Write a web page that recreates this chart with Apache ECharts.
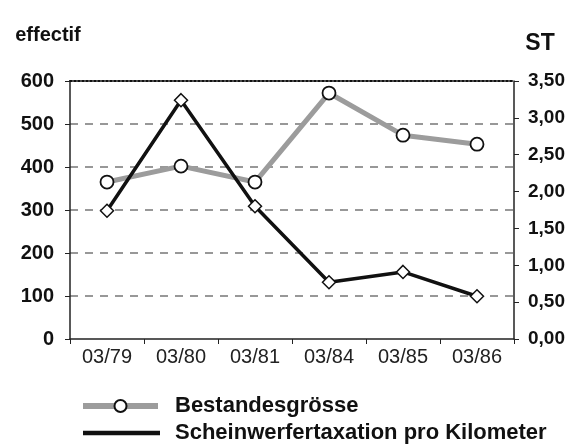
<!DOCTYPE html>
<html>
<head>
<meta charset="utf-8">
<script src="https://cdn.jsdelivr.net/npm/echarts@6/dist/echarts.min.js"></script>
<style>
  html, body { margin: 0; padding: 0; background: #fff; }
  #chart { width: 575px; height: 444px; }
</style>
</head>
<body>
<div id="chart"></div>
<script>
// categories and values
const categories = ['03/79', '03/80', '03/81', '03/84', '03/85', '03/86'];
const bestand = [365, 402, 365, 572, 474, 453];       // effectif, left axis
const taxation = [1.74, 3.24, 1.80, 0.77, 0.91, 0.58]; // ST, right axis
const leftTicks = { min: 0, max: 600, interval: 100 };
const rightTicks = { min: 0, max: 3.5, interval: 0.5 };

const font = 'Liberation Sans, Arial, sans-serif';
const myChart = echarts.init(document.getElementById('chart'));

const legendText = { fontFamily: font, fontWeight: 'bold', fontSize: 22, color: '#111' };

const option = {
  backgroundColor: '#fff',
  animation: false,
  grid: { left: 70, right: 61, top: 81, bottom: 105 },
  legend: [
    {
      data: ['Bestandesgrösse'],
      left: 75, top: 390,
      itemWidth: 75, itemHeight: 15,
      lineStyle: { color: '#9c9c9c', width: 6 },
      textStyle: Object.assign({}, legendText, { padding: [0, 0, 0, 12] })
    },
    {
      data: [{ name: 'Scheinwerfertaxation pro Kilometer', icon: 'rect' }],
      left: 78, top: 417,
      itemWidth: 75, itemHeight: 2.5,
      textStyle: Object.assign({}, legendText, { padding: [0, 0, 0, 11] })
    }
  ],
  xAxis: [
    {
      type: 'category',
      data: categories,
      axisLine: { onZero: false, lineStyle: { color: '#222', width: 1.5 } },
      axisTick: { show: true, length: 5, lineStyle: { color: '#222' } },
      axisLabel: { fontFamily: font, fontSize: 20, color: '#222', margin: 8 }
    },
    {
      // dotted frame line along the top
      type: 'category',
      data: categories,
      position: 'top',
      axisLine: { onZero: false, lineStyle: { color: '#111', width: 2, type: [2, 2] } },
      axisTick: { show: false },
      axisLabel: { show: false }
    }
  ],
  yAxis: [
    {
      type: 'value',
      min: leftTicks.min, max: leftTicks.max, interval: leftTicks.interval,
      name: 'effectif',
      nameLocation: 'end',
      nameGap: 36,
      nameTextStyle: { fontFamily: font, fontWeight: 'bold', fontSize: 20, color: '#111', align: 'center', padding: [0, 44, 0, 0] },
      axisLine: { show: true, lineStyle: { color: '#222', width: 1.5 } },
      axisTick: { show: true, length: 5, lineStyle: { color: '#222' } },
      axisLabel: { fontFamily: font, fontWeight: 'bold', fontSize: 20, color: '#111', margin: 16 },
      splitLine: { show: true, showMaxLine: false, showMinLine: false, lineStyle: { color: '#777', width: 1.5, type: [8, 7] } }
    },
    {
      type: 'value',
      position: 'right',
      min: rightTicks.min, max: rightTicks.max, interval: rightTicks.interval,
      name: 'ST',
      nameLocation: 'end',
      nameGap: 26,
      nameTextStyle: { fontFamily: font, fontWeight: 'bold', fontSize: 23, color: '#111', align: 'center', padding: [0, 0, 0, 52] },
      axisLine: { show: true, lineStyle: { color: '#222', width: 1.5 } },
      axisTick: { show: true, length: 5, lineStyle: { color: '#222' } },
      axisLabel: {
        fontFamily: font, fontWeight: 'bold', fontSize: 19, color: '#111', margin: 14,
        formatter: v => v.toFixed(2).replace('.', ',')
      },
      splitLine: { show: false }
    }
  ],
  series: [
    {
      name: 'Bestandesgrösse',
      type: 'line',
      yAxisIndex: 0,
      data: bestand,
      symbol: 'circle',
      symbolSize: 13,
      lineStyle: { color: '#9c9c9c', width: 5 },
      itemStyle: { color: '#fff', borderColor: '#111', borderWidth: 1.8 },
      z: 2
    },
    {
      name: 'Scheinwerfertaxation pro Kilometer',
      type: 'line',
      yAxisIndex: 1,
      // white-filled diamonds per point, black for the legend line
      data: taxation.map(v => ({ value: v, itemStyle: { color: '#fff', borderColor: '#111' } })),
      symbol: 'diamond',
      symbolSize: 13,
      lineStyle: { color: '#111', width: 3.5 },
      itemStyle: { color: '#111', borderColor: '#111', borderWidth: 1.5 },
      z: 3
    }
  ]
};

myChart.setOption(option);
</script>
</body>
</html>
